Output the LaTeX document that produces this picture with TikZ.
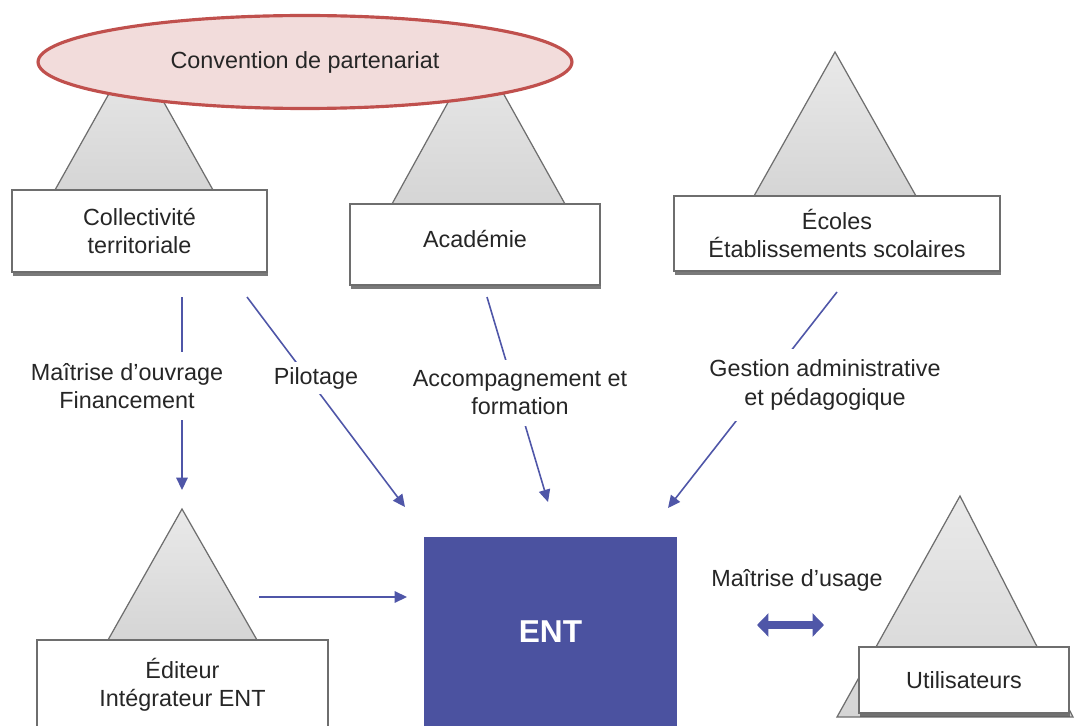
\documentclass[tikz,border=0pt]{standalone}
\usepackage{fontspec}
\setmainfont{Liberation Sans}
\usepackage{tikz}
\usetikzlibrary{positioning, arrows.meta, shapes.geometric, shadows}
\definecolor{flowblue}{RGB}{79,86,168}
\definecolor{entblue}{RGB}{75,82,160}
\definecolor{convfill}{RGB}{242,220,219}
\definecolor{convline}{RGB}{192,80,77}
\definecolor{textgray}{RGB}{38,38,38}
\definecolor{framegray}{RGB}{110,110,110}
\tikzset{
  actor/.style={
    draw=framegray, line width=0.7pt, fill=white, text=textgray,
    align=center, font=\fontsize{13.3}{16}\selectfont,
    drop shadow={shadow xshift=0.6pt, shadow yshift=-2.4pt, fill=black!65, opacity=0.8}
  },
  pyramid/.style={draw=framegray, line width=0.7pt, top color=gray!17, bottom color=gray!33},
  flow/.style={draw=flowblue, line width=0.9pt, -{Triangle[length=7pt, width=6.5pt]}},
  role/.style={
    fill=white, text=textgray, align=center,
    font=\fontsize{13.3}{16}\selectfont, inner xsep=2pt, inner ysep=0.22cm
  },
}

\begin{document}
\begin{tikzpicture}[x=0.02cm, y=-0.02cm]
  \clip (0,0) rectangle (1075,726);
  \fill[white] (0,0) rectangle (1075,726);

  % pyramides
  \path[pyramid] (134,49) -- (213,190) -- (55,190) -- cycle;
  \path[pyramid] (478,48) -- (565,204) -- (392,204) -- cycle;
  \path[pyramid] (835,52) -- (916,196) -- (754,196) -- cycle;
  \path[pyramid] (182,509) -- (257,640) -- (108,640) -- cycle;
  \path[pyramid] (960,496) -- (1073,717) -- (837,717) -- cycle;

  \node[ellipse, draw=convline, line width=1.8pt, fill=convfill,
        minimum width=10.68cm, minimum height=1.86cm, text=textgray,
        font=\fontsize{13.3}{16}\selectfont] (conv) at (305,62) {Convention de partenariat};

  % acteurs
  \node[actor, minimum width=5.1cm, minimum height=1.64cm] (coll) at (139.5,231) {Collectivité\\territoriale};
  \node[actor, minimum width=5cm, minimum height=1.62cm, text depth=6pt] (acad) at (475,244.5) {Académie};
  \node[actor, minimum width=6.52cm, minimum height=1.5cm] (ecol) at (837,233.5) {Écoles\\Établissements scolaires};
  \node[actor, minimum width=5.82cm, minimum height=1.8cm] (edit) at (182.5,685) {Éditeur\\Intégrateur ENT};
  \node[actor, minimum width=4.2cm, minimum height=1.32cm] (util) at (964,680) {Utilisateurs};
  \node[fill=entblue, minimum width=5.06cm, minimum height=3.8cm, text=white,
        font=\fontsize{18}{20}\selectfont\bfseries] (ent) at (550.5,632) {ENT};

  % bouts des fleches
  \coordinate (mo1) at (182,297);  \coordinate (mo2) at (182,490);
  \coordinate (pi1) at (247,297);  \coordinate (pi2) at (405,507);
  \coordinate (ac1) at (487,297);  \coordinate (ac2) at (548,502);
  \coordinate (ge1) at (837,292);  \coordinate (ge2) at (668,508);
  \coordinate (ed1) at (259,597);  \coordinate (ed2) at (407,597);
  \coordinate (us1) at (757,625);  \coordinate (us2) at (824,625);

  \draw[flow] (mo1) -- (mo2);
  \draw[flow] (pi1) -- (pi2);
  \draw[flow] (ac1) -- (ac2);
  \draw[flow] (ge1) -- (ge2);
  \draw[flow] (ed1) -- (ed2);
  \draw[draw=flowblue, line width=4pt, {Triangle[length=6.5pt, width=13pt]}-{Triangle[length=6.5pt, width=13pt]}] (us1) -- (us2);

  % libelles
  \node[role] (mo) at (127,386) {Maîtrise d’ouvrage\\Financement};
  \node[role, inner ysep=3pt] (pi) at (316,378) {Pilotage};
  \node[role] (ac) at (520,393) {Accompagnement et\\formation};
  \node[role] (ge) at (825,385) {Gestion administrative\\et pédagogique};
  \node[role, fill=none] (us) at (797,580) {Maîtrise d’usage};
\end{tikzpicture}
\end{document}
